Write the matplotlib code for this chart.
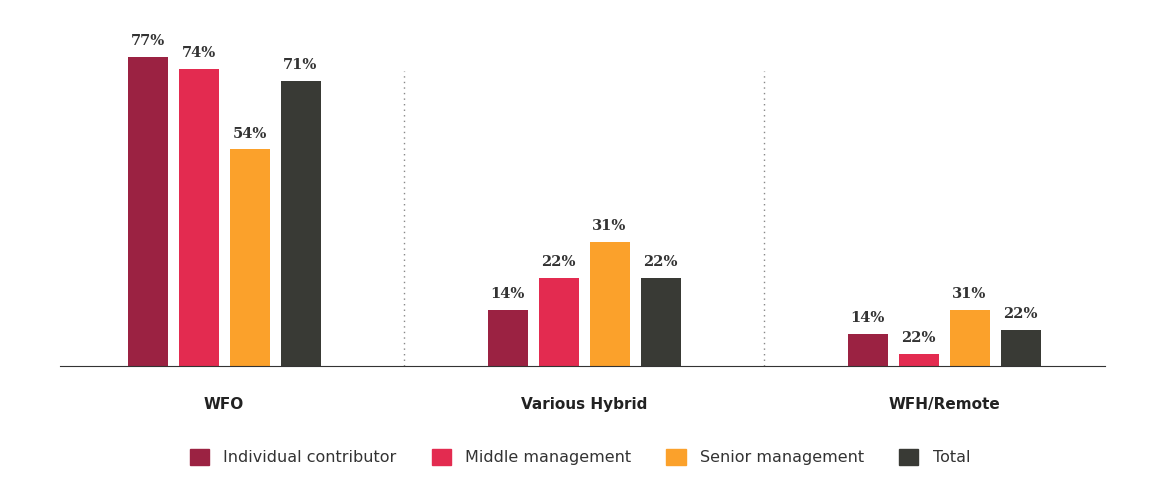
import matplotlib
matplotlib.use("Agg")
import matplotlib.pyplot as plt
from matplotlib.patches import Patch

categories = ["WFO", "Various Hybrid", "WFH/Remote"]
series = ["Individual contributor", "Middle management", "Senior management", "Total"]
values = {
    "Individual contributor": [77, 14, 8],
    "Middle management": [74, 22, 3],
    "Senior management": [54, 31, 14],
    "Total": [71, 22, 9],
}
labels = {
    "Individual contributor": ["77%", "14%", "14%"],
    "Middle management": ["74%", "22%", "22%"],
    "Senior management": ["54%", "31%", "31%"],
    "Total": ["71%", "22%", "22%"],
}
colors = ["#9B2242", "#E32B50", "#FBA12B", "#393A35"]

fig = plt.figure(figsize=(11.67, 5.0), dpi=100)
ax = fig.add_axes([60/1167, 1-366/500, (1105-60)/1167, (366-20)/500])
pitch = 51/360
width = 40/360
for i, s in enumerate(series):
    off = (i - 1.5) * pitch
    for g in range(len(categories)):
        v = values[s][g]
        ax.bar(g + off, v, width, color=colors[i], zorder=2)
        ax.text(g + off, v + 2.2, labels[s][g], ha="center", va="bottom",
                fontsize=10.5, fontweight="bold", family="DejaVu Serif", color="#333333")
for x in [0.5, 1.5]:
    ax.plot([x, x], [0, 73.5], linestyle=(0, (1, 3)), color="#888888", lw=1)
ax.set_xlim(-164/360, 2.447)
ax.set_ylim(0, 346/4.01)
ax.set_yticks([])
ax.set_xticks(range(len(categories)))
ax.set_xticklabels(categories, fontsize=11, fontweight="bold", color="#222222")
ax.tick_params(axis="x", length=0, pad=22)
for sp in ["top", "right", "left"]:
    ax.spines[sp].set_visible(False)
ax.spines["bottom"].set_color("#333333")
ax.spines["bottom"].set_linewidth(0.8)

handles = [Patch(color=c, label=s) for c, s in zip(colors, series)]
fig.legend(handles=handles, loc="center", bbox_to_anchor=(580/1167, 1-457/500), ncol=4,
           frameon=False, fontsize=11.5, handlelength=1.2, handleheight=1.2,
           columnspacing=2.2, handletextpad=0.9, labelcolor="#333333")
fig.savefig("out.png", dpi=100)
